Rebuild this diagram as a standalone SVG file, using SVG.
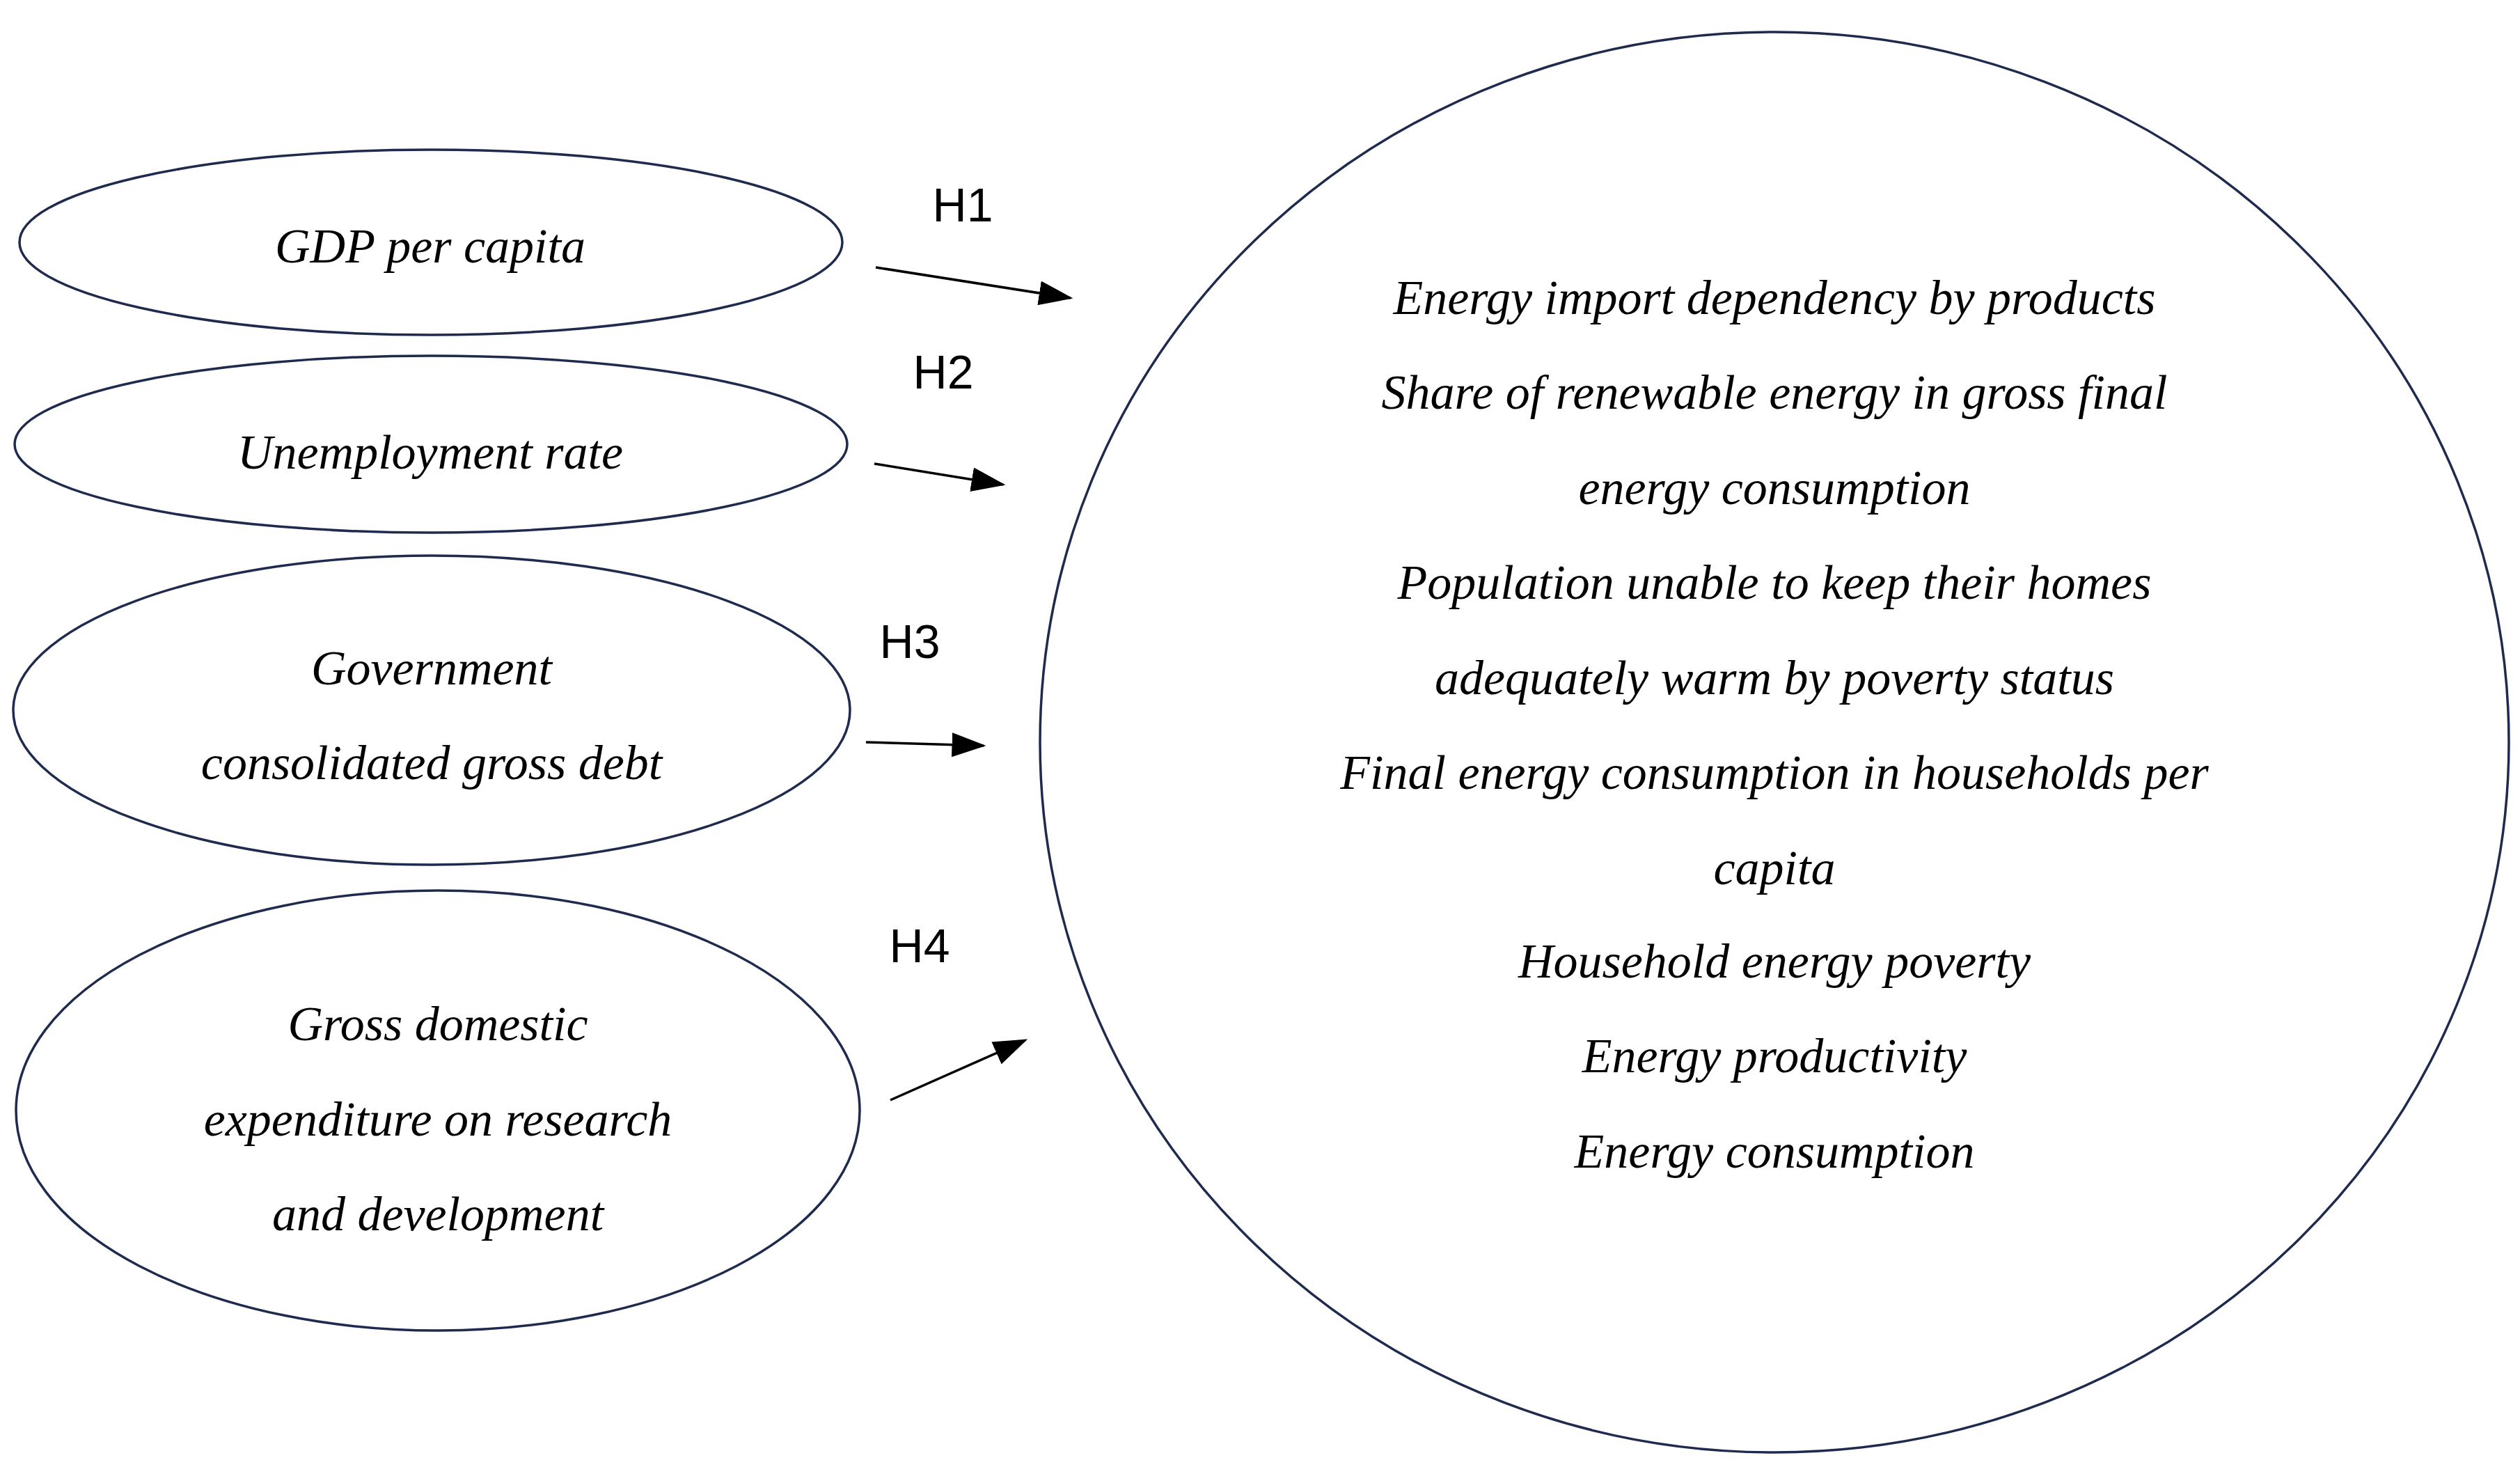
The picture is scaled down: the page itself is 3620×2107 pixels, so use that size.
<svg xmlns="http://www.w3.org/2000/svg" width="3620" height="2107" viewBox="0 0 3620 2107">
<style>
.n{fill:#fff;stroke:#1f2a4f;stroke-width:3.5}
.t{font-family:"Liberation Serif",serif;font-style:italic;font-size:70px;fill:#000;text-anchor:middle}
.h{font-family:"Liberation Sans",sans-serif;font-size:68px;fill:#000;text-anchor:middle}
.c{stroke:#000;stroke-width:3.5;fill:none;marker-end:url(#a)}
</style>
<defs><marker id="a" markerWidth="14" markerHeight="10" refX="13" refY="5" orient="auto" markerUnits="strokeWidth"><path d="M0,0L14,5L0,10z" fill="#000"/></marker></defs>
<rect width="3620" height="2107" fill="#fff"/>
<g id="gdp"><ellipse class="n" cx="619" cy="348" rx="591" ry="133"/><text class="t" x="618" y="377">GDP per capita</text></g>
<g id="unemp"><ellipse class="n" cx="619" cy="638" rx="598" ry="127"/><text class="t" x="618" y="673">Unemployment rate</text></g>
<g id="debt"><ellipse class="n" cx="620" cy="1020" rx="601" ry="222"/><text class="t" x="620" y="983">Government</text><text class="t" x="620" y="1119">consolidated gross debt</text></g>
<g id="rd"><ellipse class="n" cx="629" cy="1595" rx="606" ry="316"/><text class="t" x="629" y="1494">Gross domestic</text><text class="t" x="629" y="1631">expenditure on research</text><text class="t" x="629" y="1767">and development</text></g>
<g id="energy"><ellipse class="n" cx="2549" cy="1066" rx="1055" ry="1020"/>
<text class="t" x="2549" y="451">Energy import dependency by products</text>
<text class="t" x="2549" y="587">Share of renewable energy in gross final</text>
<text class="t" x="2549" y="724">energy consumption</text>
<text class="t" x="2549" y="860">Population unable to keep their homes</text>
<text class="t" x="2549" y="997">adequately warm by poverty status</text>
<text class="t" x="2549" y="1133">Final energy consumption in households per</text>
<text class="t" x="2549" y="1270">capita</text>
<text class="t" x="2549" y="1404">Household energy poverty</text>
<text class="t" x="2549" y="1540">Energy productivity</text>
<text class="t" x="2549" y="1677">Energy consumption</text></g>
<g id="connectors">
<line class="c" x1="1258" y1="384" x2="1538" y2="428"/>
<line class="c" x1="1256" y1="666" x2="1441" y2="696"/>
<line class="c" x1="1244" y1="1066" x2="1413" y2="1071"/>
<line class="c" x1="1279" y1="1580" x2="1473" y2="1494"/>
<text class="h" x="1383" y="318">H1</text>
<text class="h" x="1355" y="558">H2</text>
<text class="h" x="1307" y="945">H3</text>
<text class="h" x="1321" y="1382">H4</text>
</g>
</svg>
